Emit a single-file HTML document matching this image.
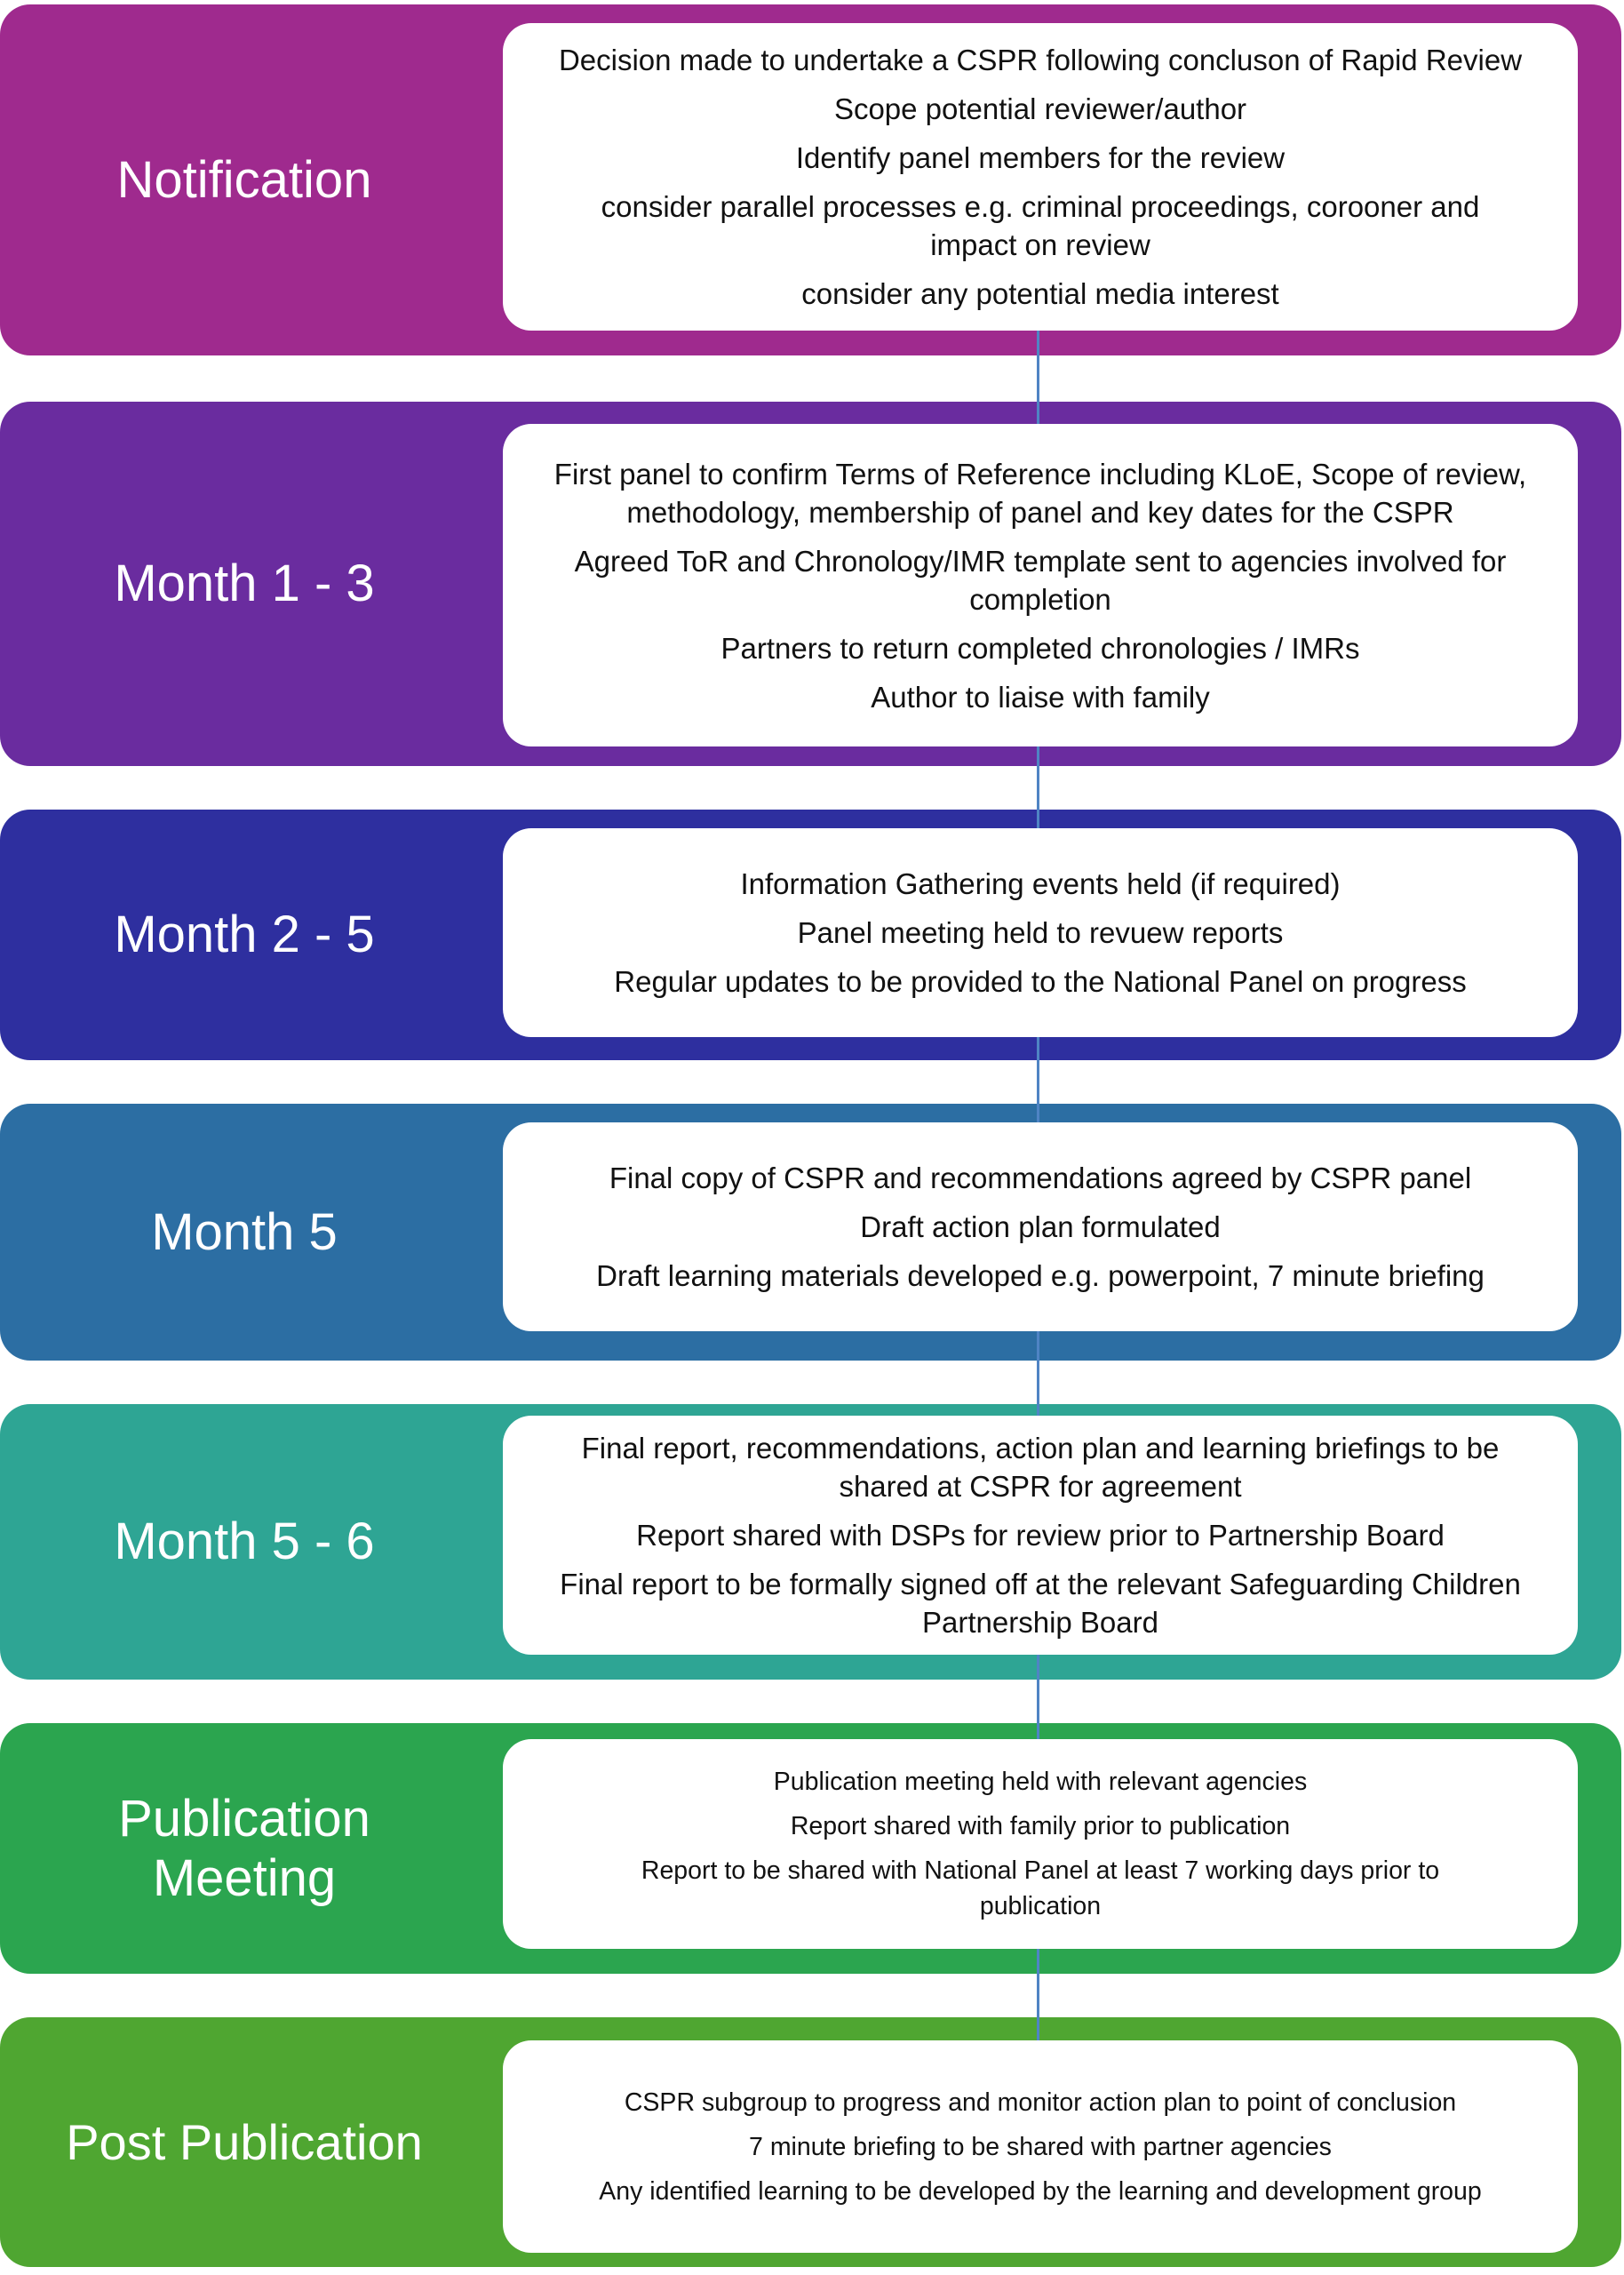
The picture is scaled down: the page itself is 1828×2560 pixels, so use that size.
<!DOCTYPE html>
<html><head><meta charset="utf-8"><style>
html,body{margin:0;padding:0;background:#fff;}
body{width:1828px;height:2560px;position:relative;overflow:hidden;font-family:"Liberation Sans",sans-serif;}
.band{position:absolute;left:0;width:1825px;border-radius:34px;}
.lab{position:absolute;left:0;width:550px;display:flex;align-items:center;justify-content:center;text-align:center;color:#fff;font-size:58px;line-height:82px;}
.box{position:absolute;left:566px;width:1210px;background:#fff;border-radius:32px;display:flex;flex-direction:column;justify-content:center;align-items:center;text-align:center;font-size:33px;line-height:43px;color:#111;box-sizing:border-box;padding:0 10px;white-space:nowrap;}
.box p{margin:6px 0;}
.sm{font-size:28.5px;line-height:40px;}
.sm p{margin:5px 0;}
.line{position:absolute;left:1167px;width:3px;background:#4f84c4;}
</style></head><body>
<div class="line" style="top:372px;height:105px"></div>
<div class="line" style="top:840px;height:92px"></div>
<div class="line" style="top:1167px;height:96px"></div>
<div class="line" style="top:1498px;height:95px"></div>
<div class="line" style="top:1862px;height:95px"></div>
<div class="line" style="top:2193px;height:103px"></div>

<div class="band" style="top:5px;height:395px;background:#9f2a8e"></div>
<div class="lab" style="top:5px;height:395px">Notification</div>
<div class="line" style="top:372px;height:28px"></div>
<div class="box" style="top:26px;height:346px">
<p>Decision made to undertake a CSPR following concluson of Rapid Review</p>
<p>Scope potential reviewer/author</p>
<p>Identify panel members for the review</p>
<p>consider parallel processes e.g. criminal proceedings, corooner and<br>impact on review</p>
<p>consider any potential media interest</p></div>

<div class="band" style="top:452px;height:410px;background:#6a2c9f"></div>
<div class="line" style="top:452px;height:25px"></div>
<div class="line" style="top:840px;height:22px"></div>
<div class="lab" style="top:452px;height:410px">Month 1 - 3</div>
<div class="box" style="top:477px;height:363px">
<p>First panel to confirm Terms of Reference including KLoE, Scope of review,<br>methodology, membership of panel and key dates for the CSPR</p>
<p>Agreed ToR and Chronology/IMR template sent to agencies involved for<br>completion</p>
<p>Partners to return completed chronologies / IMRs</p>
<p>Author to liaise with family</p></div>

<div class="band" style="top:911px;height:282px;background:#2e2f9f"></div>
<div class="line" style="top:911px;height:21px"></div>
<div class="line" style="top:1167px;height:26px"></div>
<div class="lab" style="top:911px;height:282px">Month 2 - 5</div>
<div class="box" style="top:932px;height:235px">
<p>Information Gathering events held (if required)</p>
<p>Panel meeting held to revuew reports</p>
<p>Regular updates to be provided to the National Panel on progress</p></div>

<div class="band" style="top:1242px;height:289px;background:#2c6ea3"></div>
<div class="line" style="top:1242px;height:21px"></div>
<div class="line" style="top:1498px;height:33px"></div>
<div class="lab" style="top:1242px;height:289px">Month 5</div>
<div class="box" style="top:1263px;height:235px">
<p>Final copy of CSPR and recommendations agreed by CSPR panel</p>
<p>Draft action plan formulated</p>
<p>Draft learning materials developed e.g. powerpoint, 7 minute briefing</p></div>

<div class="band" style="top:1580px;height:310px;background:#2ea594"></div>
<div class="line" style="top:1580px;height:13px"></div>
<div class="line" style="top:1862px;height:28px"></div>
<div class="lab" style="top:1580px;height:310px">Month 5 - 6</div>
<div class="box" style="top:1593px;height:269px">
<p>Final report, recommendations, action plan and learning briefings to be<br>shared at CSPR for agreement</p>
<p>Report shared with DSPs for review prior to Partnership Board</p>
<p>Final report to be formally signed off at the relevant Safeguarding Children<br>Partnership Board</p></div>

<div class="band" style="top:1939px;height:282px;background:#2ba54f"></div>
<div class="line" style="top:1939px;height:18px"></div>
<div class="line" style="top:2193px;height:28px"></div>
<div class="lab" style="top:1939px;height:282px;line-height:67px">Publication<br>Meeting</div>
<div class="box sm" style="top:1957px;height:236px">
<p>Publication meeting held with relevant agencies</p>
<p>Report shared with family prior to publication</p>
<p>Report to be shared with National Panel at least 7 working days prior to<br>publication</p></div>

<div class="band" style="top:2270px;height:281px;background:#4fa631"></div>
<div class="line" style="top:2270px;height:26px"></div>
<div class="lab" style="top:2270px;height:281px;font-size:56px">Post Publication</div>
<div class="box sm" style="top:2296px;height:239px">
<p>CSPR subgroup to progress and monitor action plan to point of conclusion</p>
<p>7 minute briefing to be shared with partner agencies</p>
<p>Any identified learning to be developed by the learning and development group</p></div>
</body></html>
